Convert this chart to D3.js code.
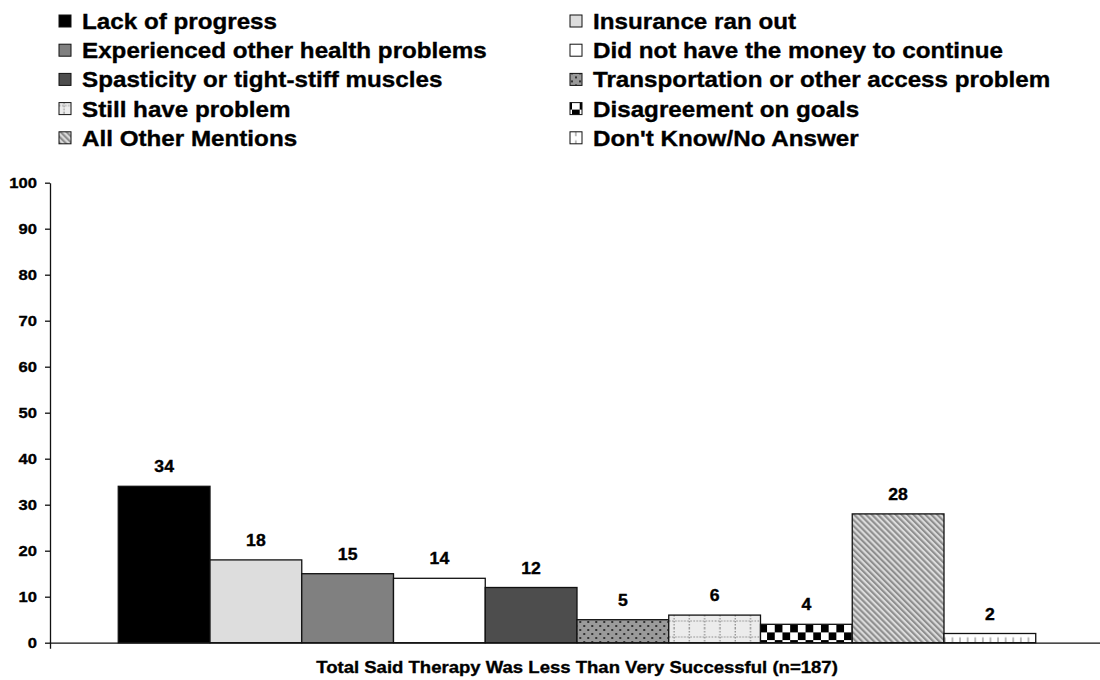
<!DOCTYPE html>
<html>
<head>
<meta charset="utf-8">
<script src="https://cdn.jsdelivr.net/npm/d3@7"></script>
<style>
  body { margin: 0; background: #fff; }
  text { font-family: Arial, "Liberation Sans", sans-serif; font-weight: bold; fill: #000;
         stroke: #000; stroke-width: 0.35px; }
</style>
</head>
<body>
<svg id="chart" width="1100" height="680"></svg>
<script>
// Chart data
const categories = ["Total Said Therapy Was Less Than Very Successful (n=187)"];
const reasons = [
  "Lack of progress",
  "Insurance ran out",
  "Experienced other health problems",
  "Did not have the money to continue",
  "Spasticity or tight-stiff muscles",
  "Transportation or other access problem",
  "Still have problem",
  "Disagreement on goals",
  "All Other Mentions",
  "Don't Know/No Answer"
];
const percents = [34, 18, 15, 14, 12, 5, 6, 4, 28, 2];
const yTicks = [0, 10, 20, 30, 40, 50, 60, 70, 80, 90, 100];

// Fill per reason (solid colours or pattern ids defined below)
const fills = [
  "#000000", "#dddddd", "#808080", "#ffffff", "#4d4d4d",
  "url(#pat-dots)", "url(#pat-dotgrid)", "url(#pat-checker)",
  "url(#pat-diag)", "url(#pat-vticks)"
];

const svg = d3.select("#chart");
const plot = { left: 50, right: 1104, top: 182.7, bottom: 642.7 };
const STRETCH = 1.1; // the lettering is set slightly wide

function widen(sel, k) {
  sel.each(function () {
    const len = this.getComputedTextLength();
    d3.select(this).attr("textLength", len * k).attr("lengthAdjust", "spacingAndGlyphs");
  });
}

// ---- Patterns ----
const defs = svg.append("defs");

const dots = defs.append("pattern").attr("id", "pat-dots")
  .attr("patternUnits", "userSpaceOnUse").attr("width", 8).attr("height", 8);
dots.append("rect").attr("width", 8).attr("height", 8).attr("fill", "#9a9a9a");
dots.append("rect").attr("x", 1).attr("y", 1).attr("width", 2).attr("height", 2).attr("fill", "#333");
dots.append("rect").attr("x", 5).attr("y", 5).attr("width", 2).attr("height", 2).attr("fill", "#333");

const grid = defs.append("pattern").attr("id", "pat-dotgrid")
  .attr("patternUnits", "userSpaceOnUse").attr("width", 15.3).attr("height", 16).attr("y", 4);
grid.append("rect").attr("width", 15.3).attr("height", 16).attr("fill", "#ececec");
grid.append("line").attr("x1", 5).attr("x2", 5).attr("y1", 0).attr("y2", 16)
  .attr("stroke", "#8a8a8a").attr("stroke-width", 1.2).attr("stroke-dasharray", "1.5,1.5");
grid.append("line").attr("x1", 0).attr("x2", 15.3).attr("y1", 9).attr("y2", 9)
  .attr("stroke", "#8a8a8a").attr("stroke-width", 1.2).attr("stroke-dasharray", "1.5,1.5");

const checker = defs.append("pattern").attr("id", "pat-checker")
  .attr("patternUnits", "userSpaceOnUse").attr("width", 15.4).attr("height", 15.4).attr("x", 2).attr("y", 1);
checker.append("rect").attr("width", 15.4).attr("height", 15.4).attr("fill", "#fff");
checker.append("rect").attr("width", 7.7).attr("height", 7.7).attr("fill", "#000");
checker.append("rect").attr("x", 7.7).attr("y", 7.7).attr("width", 7.7).attr("height", 7.7).attr("fill", "#000");

const diag = defs.append("pattern").attr("id", "pat-diag")
  .attr("patternUnits", "userSpaceOnUse").attr("width", 4.2).attr("height", 10)
  .attr("patternTransform", "rotate(-45)");
diag.append("rect").attr("width", 4.2).attr("height", 10).attr("fill", "#dcdcdc");
diag.append("rect").attr("width", 2.1).attr("height", 10).attr("fill", "#8e8e8e");

const vt = defs.append("pattern").attr("id", "pat-vticks")
  .attr("patternUnits", "userSpaceOnUse").attr("width", 7.6).attr("height", 9.2).attr("x", 2);
vt.append("rect").attr("width", 7.6).attr("height", 9.2).attr("fill", "#fff");
vt.append("line").attr("x1", 3.8).attr("x2", 3.8).attr("y1", 2.5).attr("y2", 7.5)
  .attr("stroke", "#999").attr("stroke-width", 1.3);

// ---- Scales ----
const x0 = d3.scaleBand().domain(categories)
  .range([plot.left, plot.right]).paddingInner(0).paddingOuter(0.0744);
const x1 = d3.scaleBand().domain(reasons).range([0, x0.bandwidth()]).padding(0);
const y = d3.scaleLinear().domain([0, 100]).range([plot.bottom, plot.top]);

// ---- Bars ----
const group = svg.append("g").selectAll("g").data(categories).join("g")
  .attr("transform", d => `translate(${x0(d)},0)`);

group.selectAll("rect")
  .data(reasons.map((r, i) => ({ r, v: percents[i], f: fills[i] })))
  .join("rect")
  .attr("x", d => x1(d.r))
  .attr("y", d => y(d.v))
  .attr("width", x1.bandwidth())
  .attr("height", d => y(0) - y(d.v))
  .attr("fill", d => d.f)
  .attr("stroke", "#111")
  .attr("stroke-width", 1.3);

// Value labels
const vlabels = group.selectAll("text.val")
  .data(reasons.map((r, i) => ({ r, v: percents[i] })))
  .join("text").attr("class", "val")
  .attr("x", d => x1(d.r) + x1.bandwidth() / 2)
  .attr("y", d => y(d.v) - 14)
  .attr("text-anchor", "middle")
  .style("font-size", "16px")
  .text(d => d.v);
widen(vlabels, STRETCH);

// ---- Axes ----
const yAxis = svg.append("g").attr("transform", `translate(${plot.left},0)`)
  .call(d3.axisLeft(y).tickValues(yTicks).tickSize(5).tickPadding(8).tickSizeOuter(0));
yAxis.select(".domain").attr("stroke", "#111").attr("stroke-width", 1.3);
yAxis.selectAll(".tick line").attr("stroke", "#111").attr("stroke-width", 1.3);
yAxis.selectAll(".tick text").style("font-size", "15.5px")
  .style("font-family", "Arial, 'Liberation Sans', sans-serif").style("font-weight", "bold")
  .attr("fill", "#000");
widen(yAxis.selectAll(".tick text"), 1.07);

const xAxis = svg.append("g").attr("transform", `translate(0,${plot.bottom})`)
  .call(d3.axisBottom(x0).tickSizeInner(0).tickSizeOuter(6).tickPadding(18));
xAxis.select(".domain").attr("stroke", "#111").attr("stroke-width", 1.3);
xAxis.selectAll(".tick text").style("font-size", "17px")
  .style("font-family", "Arial, 'Liberation Sans', sans-serif").style("font-weight", "bold")
  .attr("fill", "#000");
widen(xAxis.selectAll(".tick text"), 1.09);

// ---- Legend ----
const legend = svg.append("g");
const colX = [59, 570], rowY0 = 21, rowStep = 29.2;
const items = legend.selectAll("g").data(reasons).join("g")
  .attr("transform", (d, i) => `translate(${colX[i % 2]},${rowY0 + Math.floor(i / 2) * rowStep})`);
items.append("rect")
  .attr("x", 0).attr("y", -6).attr("width", 12).attr("height", 12)
  .attr("fill", (d, i) => fills[i]).attr("stroke", "#111").attr("stroke-width", 1);
const ltext = items.append("text")
  .attr("x", 23).attr("y", 8)
  .style("font-size", "22px")
  .text(d => d);
widen(ltext, STRETCH);
</script>
</body>
</html>
